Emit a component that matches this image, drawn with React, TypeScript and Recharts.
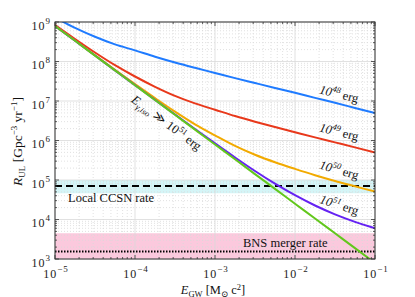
import React from "react";
import {
  LineChart, Line, XAxis, YAxis, ReferenceArea, ReferenceLine,
} from "recharts";

// E_GW in solar-mass c^2, quarter-decade steps
const ENERGY = [
  1e-5, 1.78e-5, 3.16e-5, 5.62e-5, 1e-4, 1.78e-4, 3.16e-4, 5.62e-4,
  1e-3, 1.78e-3, 3.16e-3, 5.62e-3, 1e-2, 1.78e-2, 3.16e-2, 5.62e-2, 1e-1,
];

// R_UL [Gpc^-3 yr^-1]
const R_1E48 = [
  1.29e9, 7.11e8, 4.23e8, 2.71e8, 1.91e8, 1.32e8, 9.44e7, 6.92e7,
  5.13e7, 3.8e7, 2.85e7, 2.14e7, 1.62e7, 1.2e7, 9.02e6, 6.68e6, 4.95e6,
];
const R_1E49 = [
  8.45e8, 3.72e8, 1.69e8, 8.07e7, 4.17e7, 2.29e7, 1.35e7, 8.71e6,
  6.03e6, 4.17e6, 2.99e6, 2.19e6, 1.62e6, 1.2e6, 8.97e5, 6.7e5, 4.95e5,
];
const R_1E50 = [
  8.0e8, 3.39e8, 1.44e8, 6.17e7, 2.67e7, 1.18e7, 5.37e6, 2.57e6,
  1.35e6, 7.33e5, 4.37e5, 2.82e5, 1.91e5, 1.32e5, 9.44e4, 6.92e4, 5.07e4,
];
const R_1E51 = [
  7.94e8, 3.35e8, 1.42e8, 5.97e7, 2.53e7, 1.07e7, 4.56e6, 1.95e6,
  8.45e5, 3.72e5, 1.69e5, 8.07e4, 4.12e4, 2.26e4, 1.35e4, 8.71e3, 6.03e3,
];
const R_ISO_INF = [
  7.94e8, 3.35e8, 1.41e8, 5.96e7, 2.51e7, 1.06e7, 4.47e6, 1.88e6,
  7.94e5, 3.35e5, 1.41e5, 5.96e4, 2.51e4, 1.06e4, 4.47e3, 1.88e3, 7.94e2,
];

const X_TICKS = [1e-5, 1e-4, 1e-3, 1e-2, 1e-1];
const Y_TICKS = [1e3, 1e4, 1e5, 1e6, 1e7, 1e8, 1e9];

// reference rates
const CCSN_RATE = 7.1e4;
const CCSN_BAND = [4.6e4, 1.0e5];
const BNS_RATE = 1.55e3;
const BNS_BAND = [1.0e3, 4.5e3];

const X_MIN = 1e-5, X_MAX = 1e-1, Y_MIN = 1e3, Y_MAX = 1e9;

const data = ENERGY.map((e, i) => ({
  e,
  r48: R_1E48[i],
  r49: R_1E49[i],
  r50: R_1E50[i],
  r51: R_1E51[i],
  rInf: R_ISO_INF[i],
}));

// minor grid positions (2..9 x decade)
const minorOf = (ticks: number[]) => {
  const out: number[] = [];
  ticks.slice(0, -1).forEach((d) => { for (let k = 2; k <= 9; k++) out.push(d * k); });
  return out;
};
const X_MINOR = minorOf(X_TICKS);
const Y_MINOR = minorOf(Y_TICKS);

const GRID = "#d9d9d9";
const SERIF = "'Liberation Serif', 'DejaVu Serif', serif";

const XTick = ({ x, y, payload }: any) => {
  const exp = Math.round(Math.log10(payload.value));
  return (
    <text x={x + 1} y={y + 11} textAnchor="middle" fontFamily={SERIF} fontSize={12} letterSpacing={1} fill="#222">
      10<tspan dy={-6} fontSize={9}>{`−${Math.abs(exp)}`}</tspan>
    </text>
  );
};

const YTick = ({ x, y, payload }: any) => {
  const exp = Math.round(Math.log10(payload.value));
  return (
    <text x={x} y={y + 7.5} textAnchor="end" fontFamily={SERIF} fontSize={12} letterSpacing={1} fill="#222">
      10<tspan dy={-6} fontSize={9}>{exp}</tspan>
    </text>
  );
};

// small inward tick marks (in data units via log offsets)
const xTickSeg = (v: number, len: number) => [
  [{ x: v, y: Y_MIN }, { x: v, y: Y_MIN * Math.pow(10, len / 39.5) }],
  [{ x: v, y: Y_MAX }, { x: v, y: Y_MAX / Math.pow(10, len / 39.5) }],
];
const yTickSeg = (v: number, len: number) => [
  [{ x: X_MIN, y: v }, { x: X_MIN * Math.pow(10, len / 80), y: v }],
  [{ x: X_MAX, y: v }, { x: X_MAX / Math.pow(10, len / 80), y: v }],
];

const CurveLabel = ({ x, y, angle, exp }: { x: number; y: number; angle: number; exp: string }) => (
  <text
    x={x} y={y} textAnchor="middle" transform={`rotate(${angle} ${x} ${y})`}
    fontFamily={SERIF} fontSize={12.5} fill="#111"
  >
    <tspan fontStyle="italic">10</tspan>
    <tspan dy={-5} fontSize={8.5} fontStyle="italic">{exp}</tspan>
    <tspan dy={5}> erg</tspan>
  </text>
);

export default function App() {
  const segs: any[] = [];
  X_TICKS.forEach((v) => segs.push(...xTickSeg(v, 4)));
  X_MINOR.forEach((v) => segs.push(...xTickSeg(v, 2)));
  Y_TICKS.forEach((v) => segs.push(...yTickSeg(v, 4)));
  Y_MINOR.forEach((v) => segs.push(...yTickSeg(v, 2)));

  return (
    <div style={{ position: "absolute", left: 0, top: 0, width: 415, height: 297, background: "#fff" }}>
      <LineChart width={415} height={297} data={data} margin={{ top: 22, right: 40, left: 0, bottom: 0 }}>
        <XAxis
          dataKey="e" type="number" scale="log" domain={[X_MIN, X_MAX]} ticks={X_TICKS}
          allowDataOverflow axisLine={false} tickLine={false} tick={<XTick />} height={38}
          interval={0}
        />
        <YAxis
          type="number" scale="log" domain={[Y_MIN, Y_MAX]} ticks={Y_TICKS}
          allowDataOverflow axisLine={false} tickLine={false} tick={<YTick />} width={55}
          tickSize={0} tickMargin={4} interval={0}
        />

        <ReferenceArea x1={X_MIN} x2={X_MAX} y1={CCSN_BAND[0]} y2={CCSN_BAND[1]} fill="#d4f5f7" fillOpacity={1} stroke="none" />
        <ReferenceArea x1={X_MIN} x2={X_MAX} y1={BNS_BAND[0]} y2={BNS_BAND[1]} fill="#fbc9dd" fillOpacity={1} stroke="none" />

        {X_MINOR.map((v) => (
          <ReferenceLine key={`xm${v}`} x={v} stroke={GRID} strokeWidth={0.8} strokeDasharray="1 2" />
        ))}
        {Y_MINOR.map((v) => (
          <ReferenceLine key={`ym${v}`} y={v} stroke={GRID} strokeWidth={0.8} strokeDasharray="1 2" />
        ))}
        {X_TICKS.map((v) => (
          <ReferenceLine key={`xM${v}`} x={v} stroke={GRID} strokeWidth={0.8} />
        ))}
        {Y_TICKS.map((v) => (
          <ReferenceLine key={`yM${v}`} y={v} stroke={GRID} strokeWidth={0.8} />
        ))}

        <ReferenceLine y={CCSN_RATE} stroke="#000" strokeWidth={2} strokeDasharray="7 4" />
        <ReferenceLine y={BNS_RATE} stroke="#000" strokeWidth={2} strokeDasharray="1.5 1.5" />

        <Line dataKey="r48" stroke="#1f7bff" strokeWidth={2} dot={false} type="monotone" isAnimationActive={false} />
        <Line dataKey="r49" stroke="#e8381b" strokeWidth={2} dot={false} type="monotone" isAnimationActive={false} />
        <Line dataKey="r50" stroke="#f2aa00" strokeWidth={2} dot={false} type="monotone" isAnimationActive={false} />
        <Line dataKey="r51" stroke="#6522f2" strokeWidth={2} dot={false} type="monotone" isAnimationActive={false} />
        <Line dataKey="rInf" stroke="#62c71c" strokeWidth={2} dot={false} type="monotone" isAnimationActive={false} />

        {segs.map((s, i) => (
          <ReferenceLine key={`t${i}`} segment={s} stroke="#333" strokeWidth={0.8} />
        ))}
      </LineChart>

      <svg width={415} height={297} style={{ position: "absolute", left: 0, top: 0, pointerEvents: "none" }}>
        <rect x={55} y={22} width={320} height={237} fill="none" stroke="#333" strokeWidth={1} />

        <CurveLabel x={338} y={98} angle={14} exp="48" />
        <CurveLabel x={338} y={136} angle={14} exp="49" />
        <CurveLabel x={338} y={174} angle={16} exp="50" />
        <CurveLabel x={338} y={209} angle={18} exp="51" />

        <text x={164} y={126} textAnchor="middle" transform="rotate(36.5 164 126)" fontFamily={SERIF} fontSize={12.5} fill="#111">
          <tspan fontStyle="italic">E</tspan>
          <tspan dy={3} fontSize={8.5} fontStyle="italic">γ,iso</tspan>
          <tspan dy={-3}> ≫ </tspan>
          <tspan>10</tspan>
          <tspan dy={-5} fontSize={8.5}>51</tspan>
          <tspan dy={5}> erg</tspan>
        </text>

        <text x={68} y={202} fontFamily={SERIF} fontSize={12.5} fill="#111">Local CCSN rate</text>
        <text x={243} y={247} fontFamily={SERIF} fontSize={12.5} fill="#111">BNS merger rate</text>

        <text x={213} y={294} textAnchor="middle" fontFamily={SERIF} fontSize={12.5} fill="#111">
          <tspan fontStyle="italic">E</tspan>
          <tspan dy={2.5} fontSize={8.5}>GW</tspan>
          <tspan dy={-2.5}>{"  [M"}</tspan>
          <tspan dy={2.5} fontSize={8.5}>⊙</tspan>
          <tspan dy={-2.5}> c</tspan>
          <tspan dy={-4.5} fontSize={8.5}>2</tspan>
          <tspan dy={4.5}>]</tspan>
        </text>

        <text x={22} y={141.5} textAnchor="middle" transform="rotate(-90 22 141.5)" fontFamily={SERIF} fontSize={13.5} fill="#111">
          <tspan fontStyle="italic">R</tspan>
          <tspan dy={3} fontSize={9}>UL</tspan>
          <tspan dy={-3}>{"  [Gpc"}</tspan>
          <tspan dy={-5} fontSize={9}>−3</tspan>
          <tspan dy={5}> yr</tspan>
          <tspan dy={-5} fontSize={9}>−1</tspan>
          <tspan dy={5}>]</tspan>
        </text>
      </svg>
    </div>
  );
}
